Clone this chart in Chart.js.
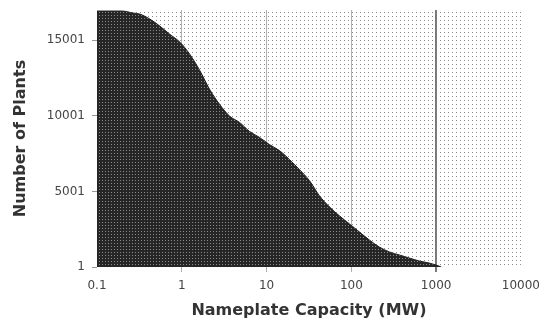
<!DOCTYPE html>
<html>
<head>
<meta charset="utf-8">
<script src="https://cdn.jsdelivr.net/npm/chart.js@4"></script>
<style>
  body { margin: 0; background: #fff; }
  #wrap { width: 547px; height: 321px; }
</style>
</head>
<body>
<div id="wrap"><canvas id="myChart" width="547" height="321"></canvas></div>
<script>
// capacity in MW (x) and number of plants at or above it (y)
const capacity = [0.1, 0.2, 0.265, 0.32, 0.42, 0.55, 0.72, 0.95, 1.24, 1.63, 2.13, 2.8, 3.67, 4.81, 6.31, 8.27,
  10.8, 14.2, 18.7, 24.5, 32.1, 42, 55.1, 72.3, 94.7, 124, 163, 213, 280, 367, 481, 631, 827, 1000, 1150]
const plants = [16930, 16930, 16800, 16730, 16400, 15940, 15400, 14875, 14080, 13000, 11750, 10750, 9980, 9560, 8965, 8570,
  8100, 7700, 7100, 6440, 5710, 4715, 3985, 3385, 2855, 2325, 1790, 1330, 1000, 800, 600, 400, 265, 130, 1]

const xTicks = [0.1, 1, 10, 100, 1000, 10000]
const yTicks = [1, 5001, 10001, 15001]

// little patterns to look like the scanned picture
function makePattern(bg, dot, size) {
  let c = document.createElement('canvas')
  c.width = size
  c.height = size
  let g = c.getContext('2d')
  g.fillStyle = bg
  g.fillRect(0, 0, size, size)
  g.fillStyle = dot
  g.fillRect(0, 0, 1, 1)
  return document.getElementById('myChart').getContext('2d').createPattern(c, 'repeat')
}

const dotted = makePattern('#ffffff', '#8a8a8a', 4)
const darkFill = makePattern('#262626', '#8a8a8a', 3)

const plotBackground = {
  id: 'plotBackground',
  beforeDraw(chart) {
    let a = chart.chartArea
    let ctx = chart.ctx
    ctx.save()
    ctx.fillStyle = dotted
    ctx.fillRect(a.left, a.top, a.right - a.left, a.bottom - a.top)
    ctx.restore()
  }
}

let points = []
for (let i = 0; i < capacity.length; i++) {
  points.push({x: capacity[i], y: plants[i]})
}

const tickFont = {family: 'DejaVu Sans', size: 12}
const titleFont = {family: 'DejaVu Sans', size: 16, weight: 'bold'}

new Chart(document.getElementById('myChart'), {
  type: 'line',
  data: {
    datasets: [{
      data: points,
      fill: 'start',
      backgroundColor: darkFill,
      borderColor: '#222',
      borderWidth: 1,
      pointRadius: 0,
      cubicInterpolationMode: 'monotone'
    }]
  },
  options: {
    responsive: false,
    animation: false,
    layout: {padding: {top: 10, right: 25, left: 0, bottom: 0}},
    plugins: {legend: {display: false}, tooltip: {enabled: false}},
    scales: {
      x: {
        type: 'logarithmic',
        min: 0.1,
        max: 10000,
        afterBuildTicks: function(scale) { scale.ticks = xTicks.map(v => ({value: v})) },
        afterFit: function(scale) { scale.height = 54 },
        border: {display: false},
        grid: {
          tickLength: 5,
          color: function(c) {
            if (c.tick && c.tick.value == 1000) return '#7a7a7a'
            if (c.tick && (c.tick.value == 0.1 || c.tick.value == 10000)) return 'rgba(0,0,0,0)'
            return '#b0b0b0'
          },
          lineWidth: function(c) { return (c.tick && c.tick.value == 1000) ? 2 : 1 }
        },
        ticks: {
          font: tickFont,
          color: '#444',
          padding: 7,
          maxRotation: 0,
          autoSkip: false,
          callback: function(v) { return String(v) }
        },
        title: {display: true, text: 'Nameplate Capacity (MW)', font: titleFont, color: '#333', padding: {top: 0, bottom: 1}}
      },
      y: {
        min: 1,
        max: 17000,
        afterBuildTicks: function(scale) { scale.ticks = yTicks.map(v => ({value: v})) },
        afterFit: function(scale) {
          scale.width = 97
          scale.paddingTop = 0
          scale.paddingBottom = 0
        },
        border: {display: false},
        grid: {drawOnChartArea: false, tickLength: 5, color: '#999'},
        ticks: {
          font: tickFont,
          color: '#444',
          padding: 7,
          callback: function(v) { return String(v) }
        },
        title: {display: true, text: 'Number of Plants', font: titleFont, color: '#333', padding: {top: 11, bottom: 0}}
      }
    }
  },
  plugins: [plotBackground]
})
</script>
</body>
</html>
